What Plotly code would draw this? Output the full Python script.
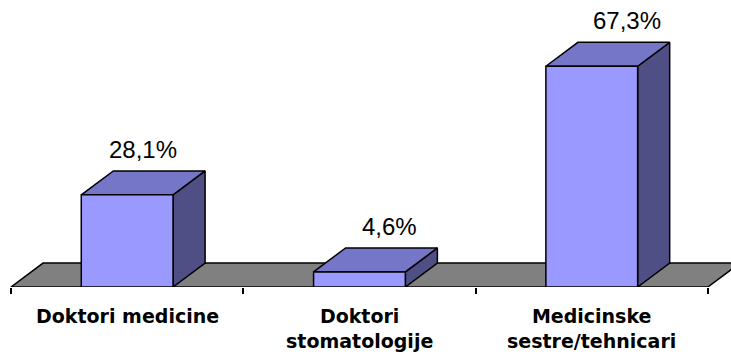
import plotly.graph_objects as go

# Data
categories = ["Doktori medicine", "Doktori<br>stomatologije", "Medicinske<br>sestre/tehnicari"]
values = [28.1, 4.6, 67.3]

# Pseudo-3D geometry (axis units)
BAR_W = 0.395          # front face width in category units
DX = 0.138             # depth offset along x
DY = 7.3               # depth offset along y
FRONT = "#9999FF"
TOP = "#7676C8"
SIDE = "#4F4F86"
FLOOR = "#808080"
EDGE = "black"

fig = go.Figure()


def poly(xs, ys, color):
    fig.add_trace(go.Scatter(
        x=xs + [xs[0]], y=ys + [ys[0]], mode="lines", fill="toself",
        fillcolor=color, line=dict(color=EDGE, width=1.5),
        hoverinfo="skip", showlegend=False,
    ))


# floor plane at value 0
n = len(categories)
poly([0, n, n + DX, DX], [0, 0, DY, DY], FLOOR)

# bars: front, top and side faces built from the values
for i, v in enumerate(values):
    c = i + 0.5
    x0, x1 = c - BAR_W / 2, c + BAR_W / 2
    poly([x1, x1 + DX, x1 + DX, x1], [0, DY, v + DY, v], SIDE)
    poly([x0, x1, x1 + DX, x0 + DX], [v, v, v + DY, v + DY], TOP)
    poly([x0, x1, x1, x0], [0, 0, v, v], FRONT)

# value labels
label_xshift = [0, 14, 19]
for i, v in enumerate(values):
    fig.add_annotation(
        x=i + 0.5 + DX / 2, y=v + DY, xref="x", yref="y",
        text=f"{v:.1f}".replace(".", ",") + "%", showarrow=False,
        yanchor="bottom", xanchor="center", yshift=6, xshift=label_xshift[i],
        font=dict(family="Liberation Sans, Arial", size=24, color="black"),
    )

# category labels
for i, cat in enumerate(categories):
    fig.add_annotation(
        x=i + 0.5, y=0, xref="x", yref="y", text=cat, showarrow=False,
        yanchor="top", xanchor="center", yshift=-16,
        font=dict(family="DejaVu Sans", size=19, color="black", weight="bold"),
    )

px_per_cat = 232.3
left_px = 11
fig.update_xaxes(
    range=[-left_px / px_per_cat, (731 - left_px) / px_per_cat],
    tickvals=list(range(n + 1)), ticks="outside", ticklen=6, tickwidth=1.5,
    tickcolor="black", showticklabels=False, showline=False,
    showgrid=False, zeroline=False, fixedrange=True,
)
fig.update_yaxes(
    range=[0, 287 / 3.28], visible=False, showgrid=False, zeroline=False,
    fixedrange=True,
)
fig.update_layout(
    width=731, height=356,
    margin=dict(l=0, r=0, t=0, b=69),
    plot_bgcolor="white", paper_bgcolor="white",
    showlegend=False,
)

fig.write_html("out.html")
